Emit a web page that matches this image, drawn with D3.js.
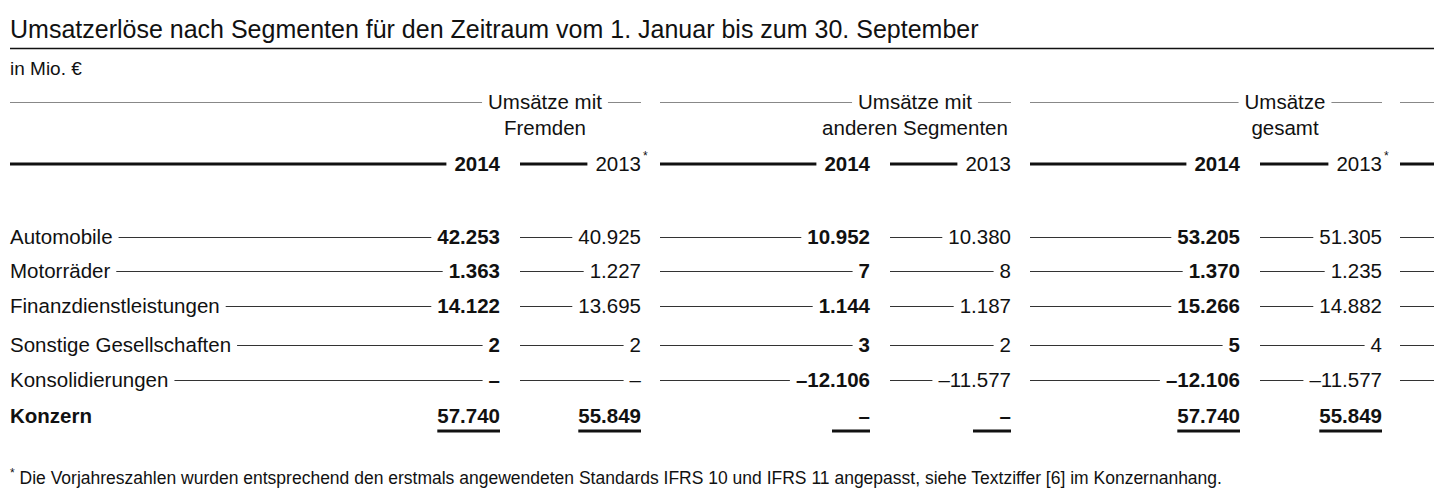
<!DOCTYPE html>
<html><head><meta charset="utf-8">
<script src="https://cdn.jsdelivr.net/npm/d3@7"></script>
<style>body{margin:0;background:#fff}text{font-family:"Liberation Sans",Arial,sans-serif;fill:#111}</style>
</head><body><div id="table"></div>
<script>
// Data
const rows = ["Automobile","Motorräder","Finanzdienstleistungen","Sonstige Gesellschaften","Konsolidierungen","Konzern"];
const fremden2014 = ["42.253","1.363","14.122","2","–","57.740"];
const fremden2013 = ["40.925","1.227","13.695","2","–","55.849"];
const segmente2014 = ["10.952","7","1.144","3","–12.106","–"];
const segmente2013 = ["10.380","8","1.187","2","–11.577","–"];
const gesamt2014 = ["53.205","1.370","15.266","5","–12.106","57.740"];
const gesamt2013 = ["51.305","1.235","14.882","4","–11.577","55.849"];
const groups = [["Umsätze mit","Fremden"],["Umsätze mit","anderen Segmenten"],["Umsätze","gesamt"]];
const years = ["2014","2013","2014","2013","2014","2013"];
const yearStar = [false,true,false,false,false,true];

const columns = [fremden2014, fremden2013, segmente2014, segmente2013, gesamt2014, gesamt2013];

const width = 1444, height = 502;
const fs = 20.5;
const svg = d3.select("#table").append("svg").attr("width", width).attr("height", height);

// Scales: right edge and left edge of each value column, row baselines
const colRight = d3.scaleOrdinal().domain(d3.range(6)).range([500, 641, 870, 1011, 1240, 1382]);
const colLeft = d3.scaleOrdinal().domain(d3.range(6)).range([10, 520, 660, 890, 1030, 1260]);
const rowY = d3.scaleOrdinal().domain(rows).range([237, 271, 306, 345, 380, 416]);

// Title
svg.append("text").attr("x", 10).attr("y", 38).attr("font-size", 25).text("Umsatzerlöse nach Segmenten für den Zeitraum vom 1. Januar bis zum 30. September");
svg.append("line").attr("x1", 10).attr("x2", 1434).attr("y1", 48.5).attr("y2", 48.5).attr("stroke", "#111").attr("stroke-width", 1.5);
svg.append("text").attr("x", 10).attr("y", 75).attr("font-size", 19).text("in Mio. €");

// Group headers
groups.forEach((g, i) => {
  const cx = colLeft(i * 2 + 1) + 25;
  const gx0 = colLeft(i * 2), gx1 = colRight(i * 2 + 1);
  const t1 = svg.append("text").attr("x", cx).attr("y", 109).attr("text-anchor", "middle").attr("font-size", fs).text(g[0]);
  svg.append("text").attr("x", cx).attr("y", 135).attr("text-anchor", "middle").attr("font-size", fs).text(g[1]);
  const w = t1.node().getComputedTextLength();
  svg.append("line").attr("x1", gx0).attr("x2", cx - w / 2 - 6).attr("y1", 102.5).attr("y2", 102.5).attr("stroke", "#888");
  svg.append("line").attr("x1", cx + w / 2 + 6).attr("x2", gx1).attr("y1", 102.5).attr("y2", 102.5).attr("stroke", "#888");
});
svg.append("line").attr("x1", 1400).attr("x2", 1434).attr("y1", 102.5).attr("y2", 102.5).attr("stroke", "#888");

// Year row
years.forEach((yr, i) => {
  const t = svg.append("text").attr("x", colRight(i)).attr("y", 171).attr("text-anchor", "end")
    .attr("font-size", fs).attr("font-weight", i % 2 === 0 ? "bold" : "normal").text(yr);
  const w = t.node().getComputedTextLength();
  if (yearStar[i]) svg.append("text").attr("x", colRight(i) + 2).attr("y", 160).attr("font-size", 12).text("*");
  svg.append("line").attr("x1", colLeft(i)).attr("x2", colRight(i) - w - 8).attr("y1", 164).attr("y2", 164).attr("stroke", "#111").attr("stroke-width", 3);
});
svg.append("line").attr("x1", 1400).attr("x2", 1434).attr("y1", 164).attr("y2", 164).attr("stroke", "#111").attr("stroke-width", 3);

// Body rows
rows.forEach((r, ri) => {
  const y = rowY(r);
  const total = r === "Konzern";
  const lab = svg.append("text").attr("x", 10).attr("y", y + 7).attr("font-size", fs)
    .attr("font-weight", total ? "bold" : "normal").text(r);
  const lw = lab.node().getComputedTextLength();
  columns.forEach((col, ci) => {
    const t = svg.append("text").attr("x", colRight(ci)).attr("y", y + 7).attr("text-anchor", "end")
      .attr("font-size", fs).attr("font-weight", (ci % 2 === 0 || total) ? "bold" : "normal").text(col[ri]);
    const w = t.node().getComputedTextLength();
    if (total) {
      const uw = col[ri] === "–" ? 38 : w;
      svg.append("line").attr("x1", colRight(ci) - uw).attr("x2", colRight(ci)).attr("y1", y + 15).attr("y2", y + 15)
        .attr("stroke", "#111").attr("stroke-width", 3);
    } else {
      const x0 = ci === 0 ? 10 + lw + 6 : colLeft(ci);
      svg.append("line").attr("x1", x0).attr("x2", colRight(ci) - w - 6).attr("y1", y + 0.5).attr("y2", y + 0.5).attr("stroke", "#333");
    }
  });
  if (!total) svg.append("line").attr("x1", 1400).attr("x2", 1434).attr("y1", y + 0.5).attr("y2", y + 0.5).attr("stroke", "#333");
});

// Footnote
const fn = svg.append("text").attr("x", 10).attr("y", 484).attr("font-size", 17.5);
fn.append("tspan").attr("font-size", 12).attr("dy", -7).text("*");
fn.append("tspan").attr("dy", 7).text(" Die Vorjahreszahlen wurden entsprechend den erstmals angewendeten Standards IFRS 10 und IFRS 11 angepasst, siehe Textziffer [6] im Konzernanhang.");
</script></body></html>
